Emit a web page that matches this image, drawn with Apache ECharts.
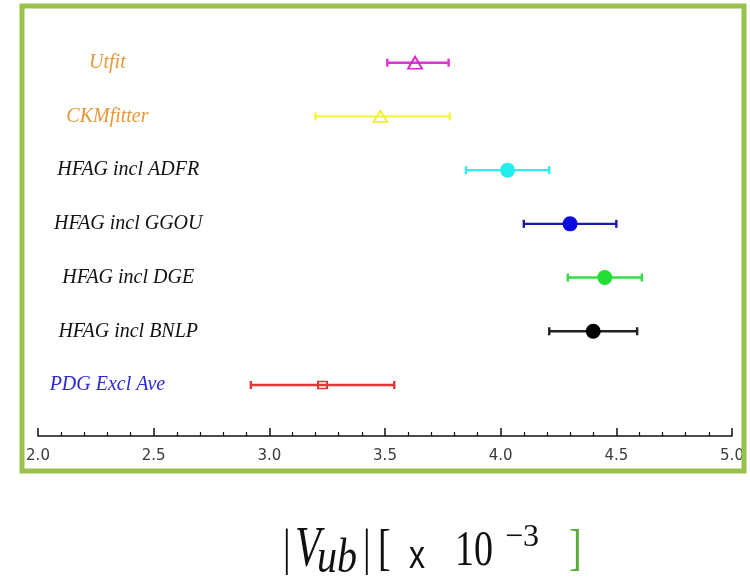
<!DOCTYPE html>
<html>
<head>
<meta charset="utf-8">
<script src="https://cdn.jsdelivr.net/npm/echarts@6/dist/echarts.min.js"></script>
<style>
html,body{margin:0;padding:0;background:#fff;}
#main{width:750px;height:577px;}
</style>
</head>
<body>
<div id="main"></div>
<script>
// ---- data ----
const categories = ['PDG Excl Ave', 'HFAG incl BNLP', 'HFAG incl DGE', 'HFAG incl GGOU', 'HFAG incl ADFR', 'CKMfitter', 'Utfit'];
const rowPositions = [1, 2, 3, 4, 5, 6, 7];
const centralValues = [3.23, 4.40, 4.45, 4.30, 4.03, 3.48, 3.63];
const lowerValues = [2.92, 4.21, 4.29, 4.10, 3.85, 3.20, 3.51];
const upperValues = [3.54, 4.59, 4.61, 4.50, 4.21, 3.78, 3.775];
const xTickValues = [2.0, 2.5, 3.0, 3.5, 4.0, 4.5, 5.0];

// ---- styles / layout ----
const lineColors = ['#e03838', '#222222', '#33dd44', '#1c1c9a', '#33eeee', '#f4f444', '#e030d8'];
const markerColors = ['#e03838', '#000000', '#22dd33', '#0a0ae0', '#22eeee', '#eeee33', '#d820d0'];
const markerShapes = ['rect', 'circle', 'circle', 'circle', 'circle', 'triangle', 'triangle'];
const markerSizes = [[9, 7], 15, 15, 15, 15, [14, 11], [14, 12]];
const markerHollow = [true, false, false, false, false, true, true];
const labelColors = ['#2a2ad0', '#111111', '#111111', '#111111', '#111111', '#e8963a', '#e8963a'];
const labelAnchorX = [2.30, 2.39, 2.39, 2.39, 2.39, 2.30, 2.30];

const chart = echarts.init(document.getElementById('main'), null, {renderer: 'canvas'});

const errData = categories.map((c, i) => [lowerValues[i], upperValues[i], rowPositions[i], i]);
const markerData = categories.map((c, i) => ({
  value: [centralValues[i], rowPositions[i]],
  symbol: markerShapes[i],
  symbolSize: markerSizes[i],
  itemStyle: markerHollow[i]
    ? {color: 'rgba(255,255,255,0)', borderColor: markerColors[i], borderWidth: 1.8, opacity: 1}
    : {color: markerColors[i], borderWidth: 0, opacity: 1}
}));
const labelData = categories.map((c, i) => ({
  value: [labelAnchorX[i], rowPositions[i]],
  name: c,
  label: {color: labelColors[i]}
}));

const titleFont = '"Liberation Serif", "Times New Roman", serif';
const k = 1.35;
function t(text, x, y, size, opts) {
  opts = opts || {};
  return {
    type: 'text', x: x, y: y, scaleY: opts.sy || k, silent: true,
    style: {
      text: text,
      font: (opts.italic ? 'italic ' : '') + size + 'px ' + (opts.family || titleFont),
      fill: opts.color || '#111',
      textAlign: 'left',
      textVerticalAlign: 'middle'
    }
  };
}

chart.setOption({
  animation: false,
  backgroundColor: '#ffffff',
  grid: {left: 38, right: 18, top: 9, bottom: 141, containLabel: false},
  xAxis: {
    type: 'value', min: 2, max: 5, interval: 0.5,
    axisLine: {show: true, lineStyle: {color: '#111', width: 1.5}},
    axisTick: {show: true, inside: true, length: 8, lineStyle: {color: '#111', width: 1.5}},
    minorTick: {show: true, splitNumber: 5, length: 4, lineStyle: {color: '#111', width: 1.2}},
    splitLine: {show: false},
    axisLabel: {
      margin: 13, color: '#3a3a3a', fontSize: 15, fontFamily: '"DejaVu Sans", Verdana, sans-serif',
      formatter: v => xTickValues.indexOf(v) >= 0 ? v.toFixed(1) : ''
    }
  },
  yAxis: {type: 'value', min: 0.05, max: 8, show: false},
  series: [
    {
      type: 'custom',
      data: errData,
      renderItem: function (params, api) {
        const lo = api.coord([api.value(0), api.value(2)]);
        const hi = api.coord([api.value(1), api.value(2)]);
        const col = lineColors[api.value(3)];
        const h = 4;
        const st = {stroke: col, lineWidth: 2.4};
        return {
          type: 'group',
          children: [
            {type: 'line', shape: {x1: lo[0], y1: lo[1], x2: hi[0], y2: hi[1]}, style: st},
            {type: 'line', shape: {x1: lo[0], y1: lo[1] - h, x2: lo[0], y2: lo[1] + h}, style: st},
            {type: 'line', shape: {x1: hi[0], y1: hi[1] - h, x2: hi[0], y2: hi[1] + h}, style: st}
          ]
        };
      },
      z: 2
    },
    {
      type: 'scatter',
      data: markerData,
      itemStyle: {opacity: 1},
      z: 3
    },
    {
      type: 'scatter',
      data: labelData,
      symbolSize: 0,
      itemStyle: {opacity: 1},
      label: {
        show: true, position: 'inside', formatter: p => p.name,
        fontFamily: '"Liberation Serif", "Times New Roman", serif',
        fontStyle: 'italic', fontSize: 20
      },
      silent: true,
      z: 4
    }
  ],
  graphic: [
    {
      type: 'rect', silent: true, z: 10,
      shape: {x: 22, y: 6, width: 722, height: 465},
      style: {fill: 'none', stroke: '#98c24a', lineWidth: 5}
    },
    t('|', 283, 551, 38),
    t('V', 295, 551, 42, {italic: true}),
    t('ub', 317, 559, 40, {italic: true, sy: 1.2}),
    t('|', 363, 551, 38),
    t('[', 378, 551, 38),
    t('x', 409, 557, 32, {family: '"Liberation Sans", Arial, sans-serif', sy: 1.2}),
    t('10', 455, 552, 38),
    t('\u22123', 505, 538, 32, {sy: 1.0}),
    t(']', 569, 551, 38, {color: '#5aac3c'})
  ]
});
</script>
</body>
</html>
